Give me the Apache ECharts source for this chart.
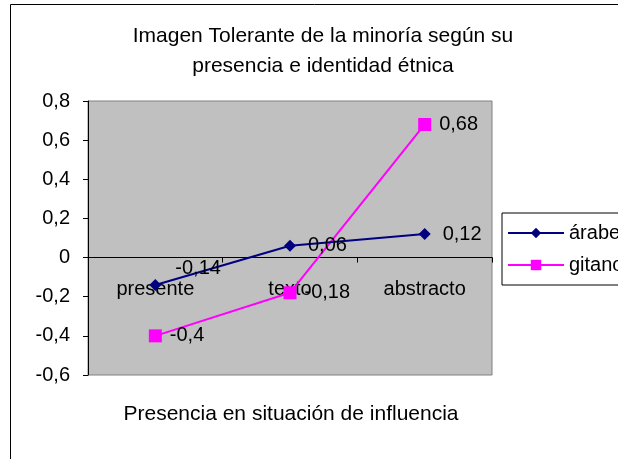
<!DOCTYPE html>
<html>
<head>
<meta charset="utf-8">
<script src="https://cdn.jsdelivr.net/npm/echarts@6/dist/echarts.min.js"></script>
<style>
    html, body { margin: 0; padding: 0; background: #fff; }
    #chart { width: 618px; height: 459px; }
</style>
</head>
<body>
<div id="chart"></div>
<script>
// datos
const categorias = ['presente', 'texto', 'abstracto'];
const arabe = [-0.14, 0.06, 0.12];
const gitano = [-0.4, -0.18, 0.68];
const yTicks = { min: -0.6, max: 0.8, interval: 0.2 };

const fuente = 'Liberation Sans, Arial, sans-serif';
const tam = 20;
const coma = v => String(Math.round(v * 100) / 100).replace('.', ',');

const chart = echarts.init(document.getElementById('chart'));
chart.setOption({
    animation: false,
    textStyle: { fontFamily: fuente },
    graphic: [{
        type: 'rect',
        shape: { x: 10.5, y: 4.5, width: 700, height: 600 },
        style: { fill: 'none', stroke: '#000', lineWidth: 1 },
        z: -10
    }],
    title: [{
        text: 'Imagen Tolerante de la minoría según su\npresencia e identidad étnica',
        left: 318,
        textAlign: 'center',
        top: 16,
        textStyle: { fontSize: 21, fontWeight: 'normal', color: '#000', lineHeight: 30, fontFamily: fuente }
    }, {
        text: 'Presencia en situación de influencia',
        left: 286,
        textAlign: 'center',
        top: 399,
        textStyle: { fontSize: 21, fontWeight: 'normal', color: '#000', fontFamily: fuente }
    }],
    legend: {
        orient: 'vertical',
        left: 502,
        top: 213,
        padding: [10, 6, 10, 5],
        itemGap: 12,
        itemWidth: 56,
        itemHeight: 13,
        borderColor: '#000',
        borderWidth: 1,
        backgroundColor: '#fff',
        textStyle: { fontSize: tam, color: '#000', fontFamily: fuente },
        data: ['árabe', 'gitano']
    },
    grid: {
        left: 88,
        top: 101,
        right: 126,
        bottom: 84,
        show: true,
        backgroundColor: '#C0C0C0',
        borderColor: '#808080',
        borderWidth: 1
    },
    xAxis: {
        type: 'category',
        data: categorias,
        boundaryGap: true,
        axisLine: { onZero: true, lineStyle: { color: '#000', width: 1 } },
        axisTick: { show: true, inside: false, length: 5, lineStyle: { color: '#000' } },
        // las etiquetas se quedan abajo, se suben hasta la linea del cero
        axisLabel: { margin: -96, fontSize: tam, color: '#000', fontFamily: fuente },
        splitLine: { show: false }
    },
    yAxis: {
        type: 'value',
        min: yTicks.min,
        max: yTicks.max,
        interval: yTicks.interval,
        axisLine: { show: true, lineStyle: { color: '#000' } },
        axisTick: { show: true, inside: false, length: 5, lineStyle: { color: '#000' } },
        axisLabel: { margin: 18, fontSize: tam, color: '#000', fontFamily: fuente, formatter: coma },
        splitLine: { show: false }
    },
    series: [{
        name: 'árabe',
        type: 'line',
        data: arabe.map((v, i) => i === 0
            ? { value: v, label: { offset: [2, -16] } }
            : v),
        color: '#000080',
        symbol: 'diamond',
        symbolSize: 12,
        lineStyle: { color: '#000080', width: 2 },
        itemStyle: { color: '#000080' },
        label: {
            show: true,
            position: 'right',
            distance: 12,
            fontSize: tam,
            color: '#000',
            fontFamily: fuente,
            formatter: p => coma(p.value)
        },
        z: 3
    }, {
        name: 'gitano',
        type: 'line',
        data: gitano,
        color: '#FF00FF',
        symbol: 'rect',
        symbolSize: 13,
        lineStyle: { color: '#FF00FF', width: 2 },
        itemStyle: { color: '#FF00FF' },
        label: {
            show: true,
            position: 'right',
            distance: 8,
            fontSize: tam,
            color: '#000',
            fontFamily: fuente,
            formatter: p => coma(p.value)
        },
        z: 2
    }]
});
</script>
</body>
</html>
